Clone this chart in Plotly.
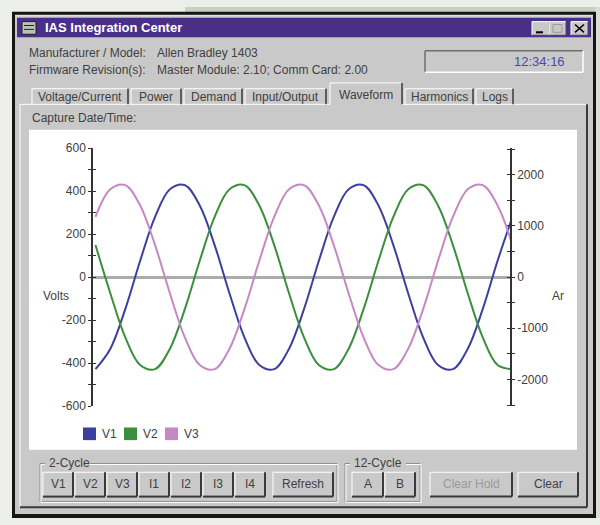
import plotly.graph_objects as go

W, H = 600, 525
FONT = "Liberation Sans, Arial, sans-serif"
TXT = "#404040"
GREY = "#c9c9c9"

# captured waveform, every 30 electrical degrees
angle = [0, 30, 60, 90, 120, 150, 180, 210, 240, 270, 300, 330, 360, 390, 420,
         450, 480, 510, 540, 570, 600, 630, 660, 690, 720, 750, 780, 810, 840]
v1 = [-428, -333, -149, 76, 280, 409, 428, 333, 149, -76, -280, -409,
      -428, -333, -149, 76, 280, 409, 428, 333, 149, -76, -280, -409,
      -428, -333, -149, 76, 280]
v2 = [149, -76, -280, -409, -428, -333, -149, 76, 280, 409, 428, 333,
      149, -76, -280, -409, -428, -333, -149, 76, 280, 409, 428, 333,
      149, -76, -280, -409, -428]
v3 = [280, 409, 428, 333, 149, -76, -280, -409, -428, -333, -149, 76,
      280, 409, 428, 333, 149, -76, -280, -409, -428, -333, -149, 76,
      280, 409, 428, 333, 149]
series = ["V1", "V2", "V3"]
colors = ["#3d3f9e", "#3b8e3b", "#c488c4"]

volt_ticks = [-600, -500, -400, -300, -200, -100, 0, 100, 200, 300, 400, 500, 600]
volt_labels = ["-600", "", "-400", "", "-200", "", "0", "", "200", "", "400", "", "600"]
amp_ticks = [-2500, -2000, -1500, -1000, -500, 0, 500, 1000, 1500, 2000, 2500]
amp_labels = ["", "-2000", "", "-1000", "", "0", "", "1000", "", "2000", ""]

tabs = ["Voltage/Current", "Power", "Demand", "Input/Output", "Waveform", "Harmonics", "Logs"]
buttons_2cycle = ["V1", "V2", "V3", "I1", "I2", "I3", "I4"]

shapes = []
notes = []


def px(x):
    return x / W


def py(y):
    return 1 - y / H


def box(x0, y0, x1, y1, fill, line=None, lw=0):
    shapes.append(dict(type="rect", xref="paper", yref="paper",
                       x0=px(x0), x1=px(x1), y0=py(y1), y1=py(y0),
                       fillcolor=fill, line=dict(width=lw, color=line or fill),
                       layer="below"))


def seg(x0, y0, x1, y1, color, lw=1):
    shapes.append(dict(type="line", xref="paper", yref="paper",
                       x0=px(x0), y0=py(y0), x1=px(x1), y1=py(y1),
                       line=dict(color=color, width=lw), layer="below"))


def bevel(x0, y0, x1, y1, raised=True, lw=1):
    hi, lo = ("#ffffff", "#4a4a4a") if raised else ("#6e6e6e", "#ffffff")
    seg(x0, y0, x1, y0, hi, lw)
    seg(x0, y0, x0, y1, hi, lw)
    seg(x0, y1, x1, y1, lo, lw)
    seg(x1, y0, x1, y1, lo, lw)


def label(x, y, text, size=12, color=TXT, anchor="left", bold=False):
    notes.append(dict(xref="paper", yref="paper", x=px(x), y=py(y),
                      text="<b>%s</b>" % text if bold else text,
                      showarrow=False, xanchor=anchor, yanchor="middle",
                      font=dict(family=FONT, size=size, color=color)))


def button(x0, x1, text, color=TXT):
    box(x0, 478, x1, 503, GREY)
    seg(x0, 478, x1, 478, "#ffffff")
    seg(x0, 478, x0, 503, "#ffffff")
    seg(x0, 503, x1, 503, "#3a3a3a", 2)
    seg(x1, 478, x1, 503, "#3a3a3a", 2)
    label((x0 + x1) / 2, 490, text, color=color, anchor="center")


def group(x0, x1, title, tx0, tx1):
    for c, d in (("#8a8a8a", 0), ("#ffffff", 1)):
        seg(x0 + d, 469 + d, tx0, 469 + d, c)
        seg(tx1, 469 + d, x1 + d, 469 + d, c)
        seg(x0 + d, 469 + d, x0 + d, 508 + d, c)
        seg(x0 + d, 508 + d, x1 + d, 508 + d, c)
        seg(x1 + d, 469 + d, x1 + d, 508 + d, c)
    label(tx0 + 2, 469, title)


# backdrop around the window
box(185, 0, 600, 6, "#c8d0c0")
box(595, 0, 600, 525, "#d8dfd2")

# window frame and title bar
box(12, 5, 596, 525, "#151515")
box(15, 8, 593, 521, GREY)
seg(15, 9, 593, 9, "#e4e4e4")
box(17, 11, 591, 31, "#4a2f8a")
box(22, 15, 36, 28, "#b9c2b9", "#202020", 1)
seg(24, 19, 34, 19, "#202020")
seg(24, 23, 34, 23, "#202020")
label(43, 21, "IAS Integration Center", size=13, color="#ffffff", bold=True)
for x0, x1 in ((532, 549), (549, 566), (571, 588)):
    box(x0, 15, x1, 29, GREY)
    bevel(x0, 15, x1, 29)
seg(536, 26, 543, 26, "#000000", 2)
box(553, 18, 562, 26, GREY, "#9a9a9a", 1)
seg(575, 18, 584, 26, "#000000", 1.6)
seg(575, 26, 584, 18, "#000000", 1.6)

# header info
label(27, 47, "Manufacturer / Model:")
label(155, 47, "Allen Bradley 1403")
label(27, 65, "Firmware Revision(s):")
label(155, 65, "Master Module: 2.10; Comm Card: 2.00")
bevel(425, 45, 583, 67, raised=False, lw=1.5)
label(567, 56, "12:34:16", size=13, color="#4a4aa8", anchor="right")

# tab strip and page
box(20, 100, 587, 514, GREY)
seg(20, 100, 330, 100, "#ffffff")
seg(402, 100, 587, 100, "#ffffff")
seg(20, 100, 20, 514, "#ffffff")
seg(20, 514, 587, 514, "#3a3a3a", 2)
seg(587, 100, 587, 514, "#3a3a3a", 2)
tab_edges = [(32, 128), (131, 181), (184, 242), (245, 326), (330, 402), (405, 473), (476, 513)]
for (x0, x1), name in zip(tab_edges, tabs):
    top = 78 if name == "Waveform" else 84
    seg(x0, top, x1 - 1, top, "#ffffff")
    seg(x0, top, x0, 100, "#ffffff")
    seg(x1, top, x1, 100, "#3a3a3a", 1.5)
    label((x0 + x1) / 2, 92 if name != "Waveform" else 90, name, anchor="center")
label(30, 114, "Capture Date/Time:")

# chart area
box(29, 126, 577, 455, "#ffffff")
label(56, 297, "Volts", anchor="center")
label(550, 297, "Ar")

# legend
for i, (name, c) in enumerate(zip(series, colors)):
    x0 = 83 + 41 * i
    box(x0, 432, x0 + 13, 445, c)
    label(x0 + 17, 438.5, name)

# buttons
group(40, 337, "2-Cycle", 45, 90)
for i, name in enumerate(buttons_2cycle):
    x0 = 43 + 32 * i
    button(x0, x0 + 30, name)
button(273, 333, "Refresh")
group(345, 420, "12-Cycle", 350, 406)
button(352, 383, "A")
button(385, 415, "B")
button(430, 512, "Clear Hold", color="#9a9a9a")
button(518, 578, "Clear")

fig = go.Figure()
for name, ys, c in zip(series, [v1, v2, v3], colors):
    fig.add_trace(go.Scatter(x=angle, y=ys, name=name, mode="lines",
                             line=dict(color=c, width=2, shape="spline"),
                             showlegend=False, hoverinfo="skip"))
# empty traces so the Amps axis and the inner tick halves are drawn
for ax in ["y2", "y3", "y4"]:
    fig.add_trace(go.Scatter(x=[None], y=[None], yaxis=ax, showlegend=False, hoverinfo="skip"))

tickfont = dict(family=FONT, size=12, color=TXT)
inner = dict(anchor="x", overlaying="y", ticks="inside", ticklen=3, tickwidth=1.2,
             tickcolor="#333333", showticklabels=False, showline=False,
             showgrid=False, zeroline=False)

fig.update_layout(
    width=W, height=H,
    margin=dict(l=0, r=0, t=0, b=0),
    paper_bgcolor="#eceee9",
    plot_bgcolor="rgba(0,0,0,0)",
    showlegend=False,
    shapes=shapes,
    annotations=notes,
    xaxis=dict(domain=[93 / W, 510 / W], range=[-5, 835], visible=False),
    yaxis=dict(domain=[1 - 410 / H, 1 - 145 / H], range=[-600, 600],
               tickmode="array", tickvals=volt_ticks, ticktext=volt_labels,
               ticks="outside", ticklen=3, tickwidth=1.2, tickcolor="#333333",
               tickfont=tickfont, showline=True, linecolor="#333333", linewidth=1.5,
               showgrid=False, zeroline=True, zerolinecolor="#ababab", zerolinewidth=3),
    yaxis2=dict(anchor="x", overlaying="y", side="right", range=[-2520, 2520],
                tickmode="array", tickvals=amp_ticks, ticktext=amp_labels,
                ticks="outside", ticklen=3, tickwidth=1.2, tickcolor="#333333",
                tickfont=tickfont, showline=True, linecolor="#333333", linewidth=1.5,
                showgrid=False, zeroline=False),
    yaxis3=dict(side="left", range=[-600, 600], tickmode="array", tickvals=volt_ticks, **inner),
    yaxis4=dict(side="right", range=[-2520, 2520], tickmode="array", tickvals=amp_ticks, **inner),
)

# the page's default body margin would push the window off its place
fig.write_html("out.html", config={"displayModeBar": False},
               post_script="document.body.style.margin = '0';")
